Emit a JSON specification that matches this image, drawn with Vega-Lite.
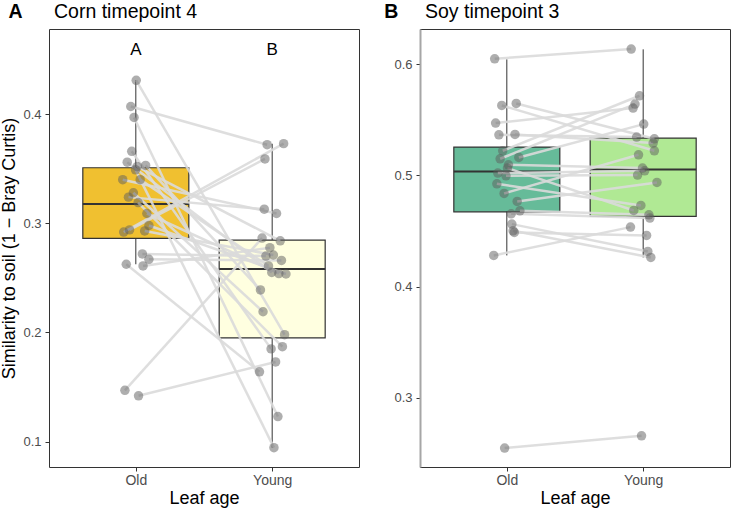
{
  "$schema": "https://vega.github.io/schema/vega-lite/v6.json",
  "padding": {"left": 0, "top": 1, "right": 0, "bottom": 0},
  "config": {
    "font": "Liberation Sans",
    "view": {"stroke": "#333333", "strokeWidth": 1},
    "axis": {"grid": false, "labelFont": "Liberation Sans", "labelColor": "#4D4D4D", "tickColor": "#333333", "tickSize": 4, "titleFont": "Liberation Sans", "titleFontWeight": "normal", "titleColor": "#000000"},
    "concat": {"spacing": 23}
  },
  "resolve": {"scale": {"x": "independent", "y": "independent", "fill": "independent"}},
  "datasets": {
    "cornBox": [
      {"age": "Old", "pos": 1, "lo": 0.2625, "q1": 0.2863, "median": 0.3177, "q3": 0.3509, "hi": 0.431, "letter": "A"},
      {"age": "Young", "pos": 2, "lo": 0.0945, "q1": 0.195, "median": 0.2582, "q3": 0.2847, "hi": 0.3729, "letter": "B"}
    ],
    "soyBox": [
      {"age": "Old", "pos": 1, "lo": 0.428, "q1": 0.4673, "median": 0.5036, "q3": 0.5255, "hi": 0.6045},
      {"age": "Young", "pos": 2, "lo": 0.4262, "q1": 0.4631, "median": 0.5054, "q3": 0.5336, "hi": 0.6135}
    ],
    "corn": [
      {"pair": 1, "age": "Old", "x": 1.003, "sim": 0.431}, {"pair": 1, "age": "Young", "x": 2.091, "sim": 0.198},
      {"pair": 2, "age": "Old", "x": 0.963, "sim": 0.407}, {"pair": 2, "age": "Young", "x": 1.963, "sim": 0.372},
      {"pair": 3, "age": "Old", "x": 0.987, "sim": 0.397}, {"pair": 3, "age": "Young", "x": 2.042, "sim": 0.123},
      {"pair": 4, "age": "Old", "x": 0.970, "sim": 0.366}, {"pair": 4, "age": "Young", "x": 1.992, "sim": 0.185},
      {"pair": 5, "age": "Old", "x": 0.937, "sim": 0.356}, {"pair": 5, "age": "Young", "x": 1.997, "sim": 0.255},
      {"pair": 6, "age": "Old", "x": 1.072, "sim": 0.353}, {"pair": 6, "age": "Young", "x": 1.914, "sim": 0.239},
      {"pair": 7, "age": "Old", "x": 0.998, "sim": 0.349}, {"pair": 7, "age": "Young", "x": 2.013, "sim": 0.0945},
      {"pair": 8, "age": "Old", "x": 0.904, "sim": 0.340}, {"pair": 8, "age": "Young", "x": 2.032, "sim": 0.309},
      {"pair": 9, "age": "Old", "x": 1.032, "sim": 0.340}, {"pair": 9, "age": "Young", "x": 1.973, "sim": 0.261},
      {"pair": 10, "age": "Old", "x": 0.982, "sim": 0.328}, {"pair": 10, "age": "Young", "x": 1.933, "sim": 0.219},
      {"pair": 11, "age": "Old", "x": 0.946, "sim": 0.324}, {"pair": 11, "age": "Young", "x": 1.942, "sim": 0.313},
      {"pair": 12, "age": "Old", "x": 1.017, "sim": 0.319}, {"pair": 12, "age": "Young", "x": 2.075, "sim": 0.187},
      {"pair": 13, "age": "Old", "x": 1.081, "sim": 0.309}, {"pair": 13, "age": "Young", "x": 2.049, "sim": 0.254},
      {"pair": 14, "age": "Old", "x": 1.096, "sim": 0.298}, {"pair": 14, "age": "Young", "x": 2.101, "sim": 0.2536},
      {"pair": 15, "age": "Old", "x": 0.911, "sim": 0.292}, {"pair": 15, "age": "Young", "x": 2.084, "sim": 0.373},
      {"pair": 16, "age": "Old", "x": 0.954, "sim": 0.294}, {"pair": 16, "age": "Young", "x": 1.947, "sim": 0.359},
      {"pair": 17, "age": "Old", "x": 1.065, "sim": 0.293}, {"pair": 17, "age": "Young", "x": 2.009, "sim": 0.271},
      {"pair": 18, "age": "Old", "x": 1.048, "sim": 0.272}, {"pair": 18, "age": "Young", "x": 1.954, "sim": 0.270},
      {"pair": 19, "age": "Old", "x": 1.096, "sim": 0.267}, {"pair": 19, "age": "Young", "x": 2.068, "sim": 0.266},
      {"pair": 20, "age": "Old", "x": 0.930, "sim": 0.2625}, {"pair": 20, "age": "Young", "x": 1.907, "sim": 0.164},
      {"pair": 21, "age": "Old", "x": 1.053, "sim": 0.261}, {"pair": 21, "age": "Young", "x": 1.983, "sim": 0.2777},
      {"pair": 22, "age": "Old", "x": 0.920, "sim": 0.147}, {"pair": 22, "age": "Young", "x": 1.926, "sim": 0.2865},
      {"pair": 23, "age": "Old", "x": 1.020, "sim": 0.142}, {"pair": 23, "age": "Young", "x": 2.025, "sim": 0.173},
      {"pair": 24, "age": "Old", "x": 1.010, "sim": 0.352}, {"pair": 24, "age": "Young", "x": 2.059, "sim": 0.284}
    ],
    "soy": [
      {"pair": 1, "age": "Old", "x": 0.911, "sim": 0.605}, {"pair": 1, "age": "Young", "x": 1.912, "sim": 0.6137},
      {"pair": 2, "age": "Old", "x": 0.963, "sim": 0.563}, {"pair": 2, "age": "Young", "x": 2.082, "sim": 0.5222},
      {"pair": 3, "age": "Old", "x": 1.069, "sim": 0.5648}, {"pair": 3, "age": "Young", "x": 2.082, "sim": 0.533},
      {"pair": 4, "age": "Old", "x": 0.918, "sim": 0.5471}, {"pair": 4, "age": "Young", "x": 1.926, "sim": 0.5606},
      {"pair": 5, "age": "Old", "x": 0.942, "sim": 0.5366}, {"pair": 5, "age": "Young", "x": 1.952, "sim": 0.5345},
      {"pair": 6, "age": "Old", "x": 1.060, "sim": 0.5369}, {"pair": 6, "age": "Young", "x": 2.073, "sim": 0.5291},
      {"pair": 7, "age": "Old", "x": 0.970, "sim": 0.5222}, {"pair": 7, "age": "Young", "x": 1.973, "sim": 0.5717},
      {"pair": 8, "age": "Old", "x": 0.951, "sim": 0.515}, {"pair": 8, "age": "Young", "x": 1.940, "sim": 0.5642},
      {"pair": 9, "age": "Old", "x": 1.088, "sim": 0.5162}, {"pair": 9, "age": "Young", "x": 2.004, "sim": 0.5462},
      {"pair": 10, "age": "Old", "x": 1.012, "sim": 0.5096}, {"pair": 10, "age": "Young", "x": 1.995, "sim": 0.5066},
      {"pair": 11, "age": "Old", "x": 1.005, "sim": 0.5066}, {"pair": 11, "age": "Young", "x": 1.931, "sim": 0.4685},
      {"pair": 12, "age": "Old", "x": 0.934, "sim": 0.5021}, {"pair": 12, "age": "Young", "x": 2.011, "sim": 0.5042},
      {"pair": 13, "age": "Old", "x": 0.994, "sim": 0.4997}, {"pair": 13, "age": "Young", "x": 1.959, "sim": 0.5003},
      {"pair": 14, "age": "Old", "x": 0.927, "sim": 0.4925}, {"pair": 14, "age": "Young", "x": 1.983, "sim": 0.473},
      {"pair": 15, "age": "Old", "x": 0.980, "sim": 0.4838}, {"pair": 15, "age": "Young", "x": 1.966, "sim": 0.5186},
      {"pair": 16, "age": "Old", "x": 1.076, "sim": 0.4766}, {"pair": 16, "age": "Young", "x": 2.101, "sim": 0.4937},
      {"pair": 17, "age": "Old", "x": 1.096, "sim": 0.4682}, {"pair": 17, "age": "Young", "x": 2.042, "sim": 0.4646},
      {"pair": 18, "age": "Old", "x": 1.032, "sim": 0.4655}, {"pair": 18, "age": "Young", "x": 2.049, "sim": 0.4616},
      {"pair": 19, "age": "Old", "x": 1.037, "sim": 0.4562}, {"pair": 19, "age": "Young", "x": 2.034, "sim": 0.4316},
      {"pair": 20, "age": "Old", "x": 1.046, "sim": 0.4502}, {"pair": 20, "age": "Young", "x": 2.056, "sim": 0.4262},
      {"pair": 21, "age": "Old", "x": 1.055, "sim": 0.4487}, {"pair": 21, "age": "Young", "x": 2.025, "sim": 0.446},
      {"pair": 22, "age": "Old", "x": 0.904, "sim": 0.428}, {"pair": 22, "age": "Young", "x": 1.907, "sim": 0.4535},
      {"pair": 23, "age": "Old", "x": 0.984, "sim": 0.2546}, {"pair": 23, "age": "Young", "x": 1.988, "sim": 0.2657}
    ]
  },
  "hconcat": [
    {
      "width": 310,
      "height": 438,
      "layer": [
        {
          "data": {"name": "cornBox"},
          "mark": {"type": "rule", "color": "#333333", "strokeWidth": 1},
          "encoding": {
            "x": {"field": "pos", "type": "quantitative", "scale": {"domain": [0.4, 2.6], "nice": false, "zero": false},
              "axis": {"values": [1, 2], "labelExpr": "datum.value == 1 ? 'Old' : 'Young'", "title": "Leaf age", "labelFontSize": 14, "titleFontSize": 18, "domain": false, "labelPadding": 2, "titlePadding": 2}},
            "y": {"field": "lo", "type": "quantitative", "scale": {"domain": [0.0768, 0.478], "nice": false, "zero": false},
              "axis": {"values": [0.1, 0.2, 0.3, 0.4], "format": ".1f", "title": "Similarity to soil (1 − Bray Curtis)", "labelFontSize": 13, "titleFontSize": 18, "domain": false, "labelPadding": 4, "titlePadding": 4}},
            "y2": {"field": "hi"}
          }
        },
        {
          "data": {"name": "cornBox"},
          "mark": {"type": "bar", "size": 106, "stroke": "#333333", "strokeWidth": 1.2},
          "encoding": {
            "x": {"field": "pos", "type": "quantitative"},
            "y": {"field": "q1", "type": "quantitative"},
            "y2": {"field": "q3"},
            "fill": {"field": "age", "type": "nominal", "scale": {"domain": ["Old", "Young"], "range": ["#F0C030", "#FFFFE0"]}, "legend": null}
          }
        },
        {
          "data": {"name": "cornBox"},
          "mark": {"type": "tick", "orient": "horizontal", "size": 106, "thickness": 2, "color": "#333333", "opacity": 1},
          "encoding": {
            "x": {"field": "pos", "type": "quantitative"},
            "y": {"field": "median", "type": "quantitative"}
          }
        },
        {
          "data": {"name": "corn"},
          "mark": {"type": "line", "color": "#DADADA", "strokeWidth": 2.5, "opacity": 0.9},
          "encoding": {
            "x": {"field": "x", "type": "quantitative"},
            "y": {"field": "sim", "type": "quantitative"},
            "detail": {"field": "pair", "type": "nominal"},
            "order": {"field": "x", "type": "quantitative"}
          }
        },
        {
          "data": {"name": "corn"},
          "mark": {"type": "circle", "size": 90, "color": "#5E5E5E", "opacity": 0.5},
          "encoding": {
            "x": {"field": "x", "type": "quantitative"},
            "y": {"field": "sim", "type": "quantitative"}
          }
        },
        {
          "data": {"name": "cornBox"},
          "mark": {"type": "text", "fontSize": 17, "color": "#000000", "baseline": "middle"},
          "encoding": {
            "x": {"field": "pos", "type": "quantitative"},
            "y": {"datum": 0.459},
            "text": {"field": "letter"}
          }
        },
        {
          "data": {"values": [{"tag": "A", "title": "Corn timepoint 4"}]},
          "mark": {"type": "text", "fontSize": 19.5, "fontWeight": "bold", "align": "left", "baseline": "alphabetic", "color": "#000000"},
          "encoding": {
            "x": {"datum": 0.066},
            "y": {"datum": 0.488},
            "text": {"field": "tag"}
          }
        },
        {
          "data": {"values": [{"tag": "A", "title": "Corn timepoint 4"}]},
          "mark": {"type": "text", "fontSize": 19.5, "align": "left", "baseline": "alphabetic", "color": "#000000"},
          "encoding": {
            "x": {"datum": 0.4},
            "y": {"datum": 0.488},
            "text": {"field": "title"}
          }
        }
      ]
    },
    {
      "width": 310,
      "height": 438,
      "layer": [
        {
          "data": {"name": "soyBox"},
          "mark": {"type": "rule", "color": "#333333", "strokeWidth": 1},
          "encoding": {
            "x": {"field": "pos", "type": "quantitative", "scale": {"domain": [0.4, 2.6], "nice": false, "zero": false},
              "axis": {"values": [1, 2], "labelExpr": "datum.value == 1 ? 'Old' : 'Young'", "title": "Leaf age", "labelFontSize": 14, "titleFontSize": 18, "domain": false, "labelPadding": 2, "titlePadding": 2}},
            "y": {"field": "lo", "type": "quantitative", "scale": {"domain": [0.2376, 0.6318], "nice": false, "zero": false},
              "axis": {"values": [0.3, 0.4, 0.5, 0.6], "format": ".1f", "title": null, "labelFontSize": 13, "domain": true, "domainColor": "#A6A6A6", "domainWidth": 2, "labelPadding": 4}},
            "y2": {"field": "hi"}
          }
        },
        {
          "data": {"name": "soyBox"},
          "mark": {"type": "bar", "size": 106, "stroke": "#333333", "strokeWidth": 1.2},
          "encoding": {
            "x": {"field": "pos", "type": "quantitative"},
            "y": {"field": "q1", "type": "quantitative"},
            "y2": {"field": "q3"},
            "fill": {"field": "age", "type": "nominal", "scale": {"domain": ["Old", "Young"], "range": ["#66BB99", "#B0E994"]}, "legend": null}
          }
        },
        {
          "data": {"name": "soyBox"},
          "mark": {"type": "tick", "orient": "horizontal", "size": 106, "thickness": 2, "color": "#333333", "opacity": 1},
          "encoding": {
            "x": {"field": "pos", "type": "quantitative"},
            "y": {"field": "median", "type": "quantitative"}
          }
        },
        {
          "data": {"name": "soy"},
          "mark": {"type": "line", "color": "#DADADA", "strokeWidth": 2.5, "opacity": 0.9},
          "encoding": {
            "x": {"field": "x", "type": "quantitative"},
            "y": {"field": "sim", "type": "quantitative"},
            "detail": {"field": "pair", "type": "nominal"},
            "order": {"field": "x", "type": "quantitative"}
          }
        },
        {
          "data": {"name": "soy"},
          "mark": {"type": "circle", "size": 90, "color": "#5E5E5E", "opacity": 0.5},
          "encoding": {
            "x": {"field": "x", "type": "quantitative"},
            "y": {"field": "sim", "type": "quantitative"}
          }
        },
        {
          "data": {"values": [{"tag": "B", "title": "Soy timepoint 3"}]},
          "mark": {"type": "text", "fontSize": 19.5, "fontWeight": "bold", "align": "left", "baseline": "alphabetic", "color": "#000000"},
          "encoding": {
            "x": {"datum": 0.102},
            "y": {"datum": 0.6417},
            "text": {"field": "tag"}
          }
        },
        {
          "data": {"values": [{"tag": "B", "title": "Soy timepoint 3"}]},
          "mark": {"type": "text", "fontSize": 19.5, "align": "left", "baseline": "alphabetic", "color": "#000000"},
          "encoding": {
            "x": {"datum": 0.4},
            "y": {"datum": 0.6417},
            "text": {"field": "title"}
          }
        }
      ]
    }
  ]
}
